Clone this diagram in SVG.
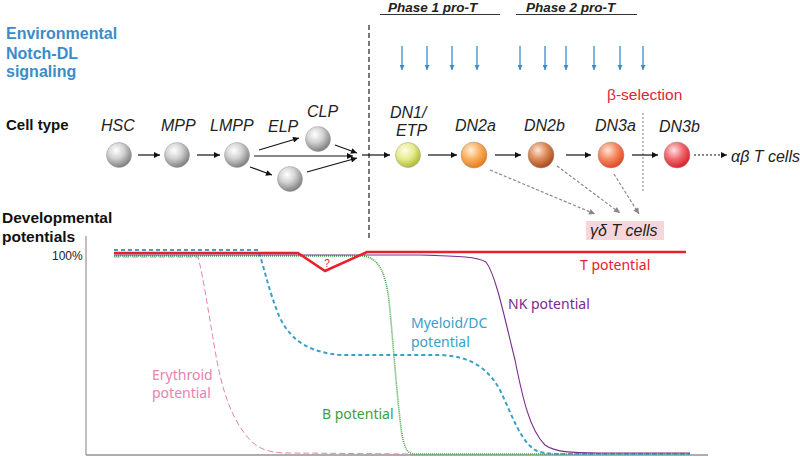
<svg xmlns="http://www.w3.org/2000/svg" width="800" height="457" viewBox="0 0 800 457">
<style>
.hdr{font-family:"Liberation Sans",Arial,sans-serif;font-weight:bold;font-size:15.5px;fill:#111}
.env{font-family:"Liberation Sans",Arial,sans-serif;font-weight:bold;font-size:16px;fill:#3a8ccb}
.ph{font-family:"Liberation Sans",Arial,sans-serif;font-weight:bold;font-style:italic;font-size:13.5px;fill:#222}
.lbl{font-family:"Liberation Sans",Arial,sans-serif;font-style:italic;font-size:16px;fill:#222}
.pot{font-family:"Noto Sans","Liberation Sans",sans-serif;font-size:14px}
.blk{stroke:#111;stroke-width:1.2;fill:none;marker-end:url(#ah)}
.gry{stroke:#888;stroke-width:1.2;fill:none;stroke-dasharray:3 2;marker-end:url(#ahg)}
.blu{stroke:#3a8ccb;stroke-width:1.3;fill:none;marker-end:url(#ahb)}
.sph{stroke:#9a9a9a;stroke-width:0.5}
</style>
<defs>
<marker id="ah" viewBox="0 0 10 10" refX="10" refY="5" markerWidth="9" markerHeight="6" markerUnits="userSpaceOnUse" orient="auto"><path d="M0,0 L10,5 L0,10 z" fill="#111"/></marker>
<marker id="ahg" viewBox="0 0 10 10" refX="10" refY="5" markerWidth="9" markerHeight="6" markerUnits="userSpaceOnUse" orient="auto"><path d="M0,0 L10,5 L0,10 z" fill="#888"/></marker>
<marker id="ahb" viewBox="0 0 10 10" refX="10" refY="5" markerWidth="8" markerHeight="5" markerUnits="userSpaceOnUse" orient="auto"><path d="M0,0 L10,5 L0,10 z" fill="#3a8ccb"/></marker>
<radialGradient id="gGray" cx="0.38" cy="0.32" r="0.7"><stop offset="0" stop-color="#ffffff"/><stop offset="0.45" stop-color="#d4d4d4"/><stop offset="1" stop-color="#7c7c7c"/></radialGradient>
<radialGradient id="gDN1" cx="0.38" cy="0.32" r="0.7"><stop offset="0" stop-color="#fdfde8"/><stop offset="0.5" stop-color="#e6ec90"/><stop offset="1" stop-color="#b0b830"/></radialGradient>
<radialGradient id="gDN2a" cx="0.38" cy="0.32" r="0.7"><stop offset="0" stop-color="#fff0dc"/><stop offset="0.5" stop-color="#f8b060"/><stop offset="1" stop-color="#e87818"/></radialGradient>
<radialGradient id="gDN2b" cx="0.38" cy="0.32" r="0.7"><stop offset="0" stop-color="#fbe6d8"/><stop offset="0.5" stop-color="#dc8a58"/><stop offset="1" stop-color="#a8481c"/></radialGradient>
<radialGradient id="gDN3a" cx="0.38" cy="0.32" r="0.7"><stop offset="0" stop-color="#fde6dc"/><stop offset="0.5" stop-color="#f58a62"/><stop offset="1" stop-color="#e04420"/></radialGradient>
<radialGradient id="gDN3b" cx="0.38" cy="0.32" r="0.7"><stop offset="0" stop-color="#fde2e2"/><stop offset="0.5" stop-color="#f06a70"/><stop offset="1" stop-color="#d8202c"/></radialGradient>
</defs>

<g id="headers">
<text class="env" x="6" y="39">Environmental</text>
<text class="env" x="6" y="59">Notch-DL</text>
<text class="env" x="6" y="77">signaling</text>
<text class="hdr" x="6" y="130" style="font-size:15px">Cell type</text>
<text class="hdr" x="2" y="223">Developmental</text>
<text class="hdr" x="2" y="242">potentials</text>
</g>

<g id="phases">
<text class="ph" x="388" y="11.5">Phase 1 pro-T</text>
<line x1="380" y1="14.5" x2="500" y2="14.5" stroke="#333" stroke-width="1"/>
<text class="ph" x="526" y="11.5">Phase 2 pro-T</text>
<line x1="516" y1="14.5" x2="637" y2="14.5" stroke="#333" stroke-width="1"/>
</g>

<g id="notch-arrows">
<line class="blu" x1="402" y1="46" x2="402" y2="70"/>
<line class="blu" x1="427" y1="46" x2="427" y2="70"/>
<line class="blu" x1="452" y1="46" x2="452" y2="70"/>
<line class="blu" x1="477" y1="46" x2="477" y2="70"/>
<line class="blu" x1="520" y1="46" x2="520" y2="70"/>
<line class="blu" x1="545" y1="46" x2="545" y2="70"/>
<line class="blu" x1="566" y1="46" x2="566" y2="70"/>
<line class="blu" x1="594" y1="46" x2="594" y2="70"/>
<line class="blu" x1="620" y1="46" x2="620" y2="70"/>
<line class="blu" x1="643" y1="46" x2="643" y2="70"/>
</g>

<g id="dividers">
<line x1="369" y1="25" x2="369" y2="240" stroke="#222" stroke-width="1.2" stroke-dasharray="5 3"/>
<line x1="643" y1="113" x2="643" y2="193" stroke="#888" stroke-width="1.1" stroke-dasharray="2 2"/>
<text x="607" y="100" style="font-family:'Liberation Sans',Arial,sans-serif;font-size:15.5px;fill:#e0243a">β-selection</text>
</g>

<g id="HSC"><text class="lbl" x="101" y="131">HSC</text><circle class="sph" cx="119" cy="155" r="12.5" fill="url(#gGray)"/></g>
<g id="MPP"><text class="lbl" x="161" y="131">MPP</text><circle class="sph" cx="177" cy="155" r="12.5" fill="url(#gGray)"/></g>
<g id="LMPP"><text class="lbl" x="210" y="131">LMPP</text><circle class="sph" cx="237" cy="155" r="12.5" fill="url(#gGray)"/></g>
<g id="ELP"><text class="lbl" x="268" y="132">ELP</text><circle class="sph" cx="290" cy="179" r="12.5" fill="url(#gGray)"/></g>
<g id="CLP"><text class="lbl" x="307" y="117">CLP</text><circle class="sph" cx="318" cy="139" r="12.5" fill="url(#gGray)"/></g>
<g id="DN1"><text class="lbl" x="390" y="118">DN1/</text><text class="lbl" x="396" y="136">ETP</text><circle class="sph" cx="408" cy="155" r="12.5" fill="url(#gDN1)"/></g>
<g id="DN2a"><text class="lbl" x="455" y="131">DN2a</text><circle class="sph" cx="474" cy="155" r="13" fill="url(#gDN2a)"/></g>
<g id="DN2b"><text class="lbl" x="524" y="131">DN2b</text><circle class="sph" cx="541" cy="155" r="13" fill="url(#gDN2b)"/></g>
<g id="DN3a"><text class="lbl" x="595" y="131">DN3a</text><circle class="sph" cx="611" cy="155" r="13" fill="url(#gDN3a)"/></g>
<g id="DN3b"><text class="lbl" x="659" y="132">DN3b</text><circle class="sph" cx="677" cy="155" r="13" fill="url(#gDN3b)"/></g>
<g id="abT"><text class="lbl" x="731" y="162">αβ T cells</text></g>
<g id="gdT"><rect x="586" y="221" width="78" height="19" fill="#f6d6da"/><text class="lbl" x="590" y="236">γδ T cells</text></g>

<g id="connectors">
<line class="blk" x1="138" y1="155" x2="160" y2="155"/>
<line class="blk" x1="197" y1="155" x2="220" y2="155"/>
<line class="blk" x1="259" y1="150" x2="299" y2="138"/>
<line class="blk" x1="254" y1="156" x2="353" y2="156"/>
<line class="blk" x1="250" y1="167" x2="272" y2="175"/>
<line class="blk" x1="307" y1="172" x2="357" y2="158"/>
<line class="blk" x1="335" y1="145" x2="357" y2="153"/>
<line class="blk" x1="362" y1="155" x2="390" y2="155"/>
<line class="blk" x1="428" y1="155" x2="457" y2="155"/>
<line class="blk" x1="495" y1="155" x2="521" y2="155"/>
<line class="blk" x1="566" y1="155" x2="591" y2="155"/>
<line class="blk" x1="632" y1="155" x2="658" y2="155"/>
<line class="blk" x1="694" y1="155" x2="727" y2="155" stroke-dasharray="2 2"/>
<line class="gry" x1="490" y1="170" x2="595" y2="214"/>
<line class="gry" x1="557" y1="166" x2="620" y2="213"/>
<line class="gry" x1="614" y1="174" x2="639" y2="214"/>
</g>

<g id="chart">
<line x1="86" y1="236" x2="86" y2="455" stroke="#9a9090" stroke-width="1.2"/>
<line x1="86" y1="455" x2="708" y2="455" stroke="#9a9090" stroke-width="1.5"/>
<text x="52" y="260" style="font-family:'Liberation Sans',Arial,sans-serif;font-size:12px;fill:#222">100%</text>
<path d="M114,257 L198,257 C203,275 208,310 215,350 C222,392 232,420 250,440 C262,452 275,453 290,453 L410,454" fill="none" stroke="#e882b0" stroke-width="1" stroke-dasharray="6 3"/>
<path d="M114,256 L363,256 C378,258 385,270 389,300 C393,340 397,400 402,435 C405,450 408,454 415,454 L690,454" fill="none" stroke="#3ca040" stroke-width="1.6" stroke-dasharray="1 1"/>
<path d="M114,250 L258,250 C263,262 268,290 280,318 C292,342 310,352 340,355 L440,355 C470,356 488,368 500,390 C512,415 520,440 535,450 C545,455 560,454 580,454 L690,454" fill="none" stroke="#3aa0c8" stroke-width="2" stroke-dasharray="4 3"/>
<path d="M114,255 L420,255 C460,256 478,257 486,262 C496,275 505,320 515,360 C523,400 530,430 545,445 C555,452 570,453 600,453 L690,453" fill="none" stroke="#7b2a8c" stroke-width="1.1"/>
<path d="M114,253 L298,253 L325,271 L367,252 L686,252" fill="none" stroke="#e8202a" stroke-width="2.5"/>
<text x="327" y="267" text-anchor="middle" style="font-family:'Liberation Sans',Arial,sans-serif;font-size:10px;fill:#e8202a">?</text>
<text class="pot" x="580" y="270" fill="#e8202a">T potential</text>
<text class="pot" x="508" y="309" fill="#7b2a8c">NK potential</text>
<text class="pot" x="411" y="328" fill="#3aa0c8">Myeloid/DC</text>
<text class="pot" x="411" y="347" fill="#3aa0c8">potential</text>
<text class="pot" x="152" y="380" fill="#e882b0">Erythroid</text>
<text class="pot" x="152" y="398" fill="#e882b0">potential</text>
<text class="pot" x="322" y="419" fill="#3ca040">B potential</text>
</g>
</svg>
